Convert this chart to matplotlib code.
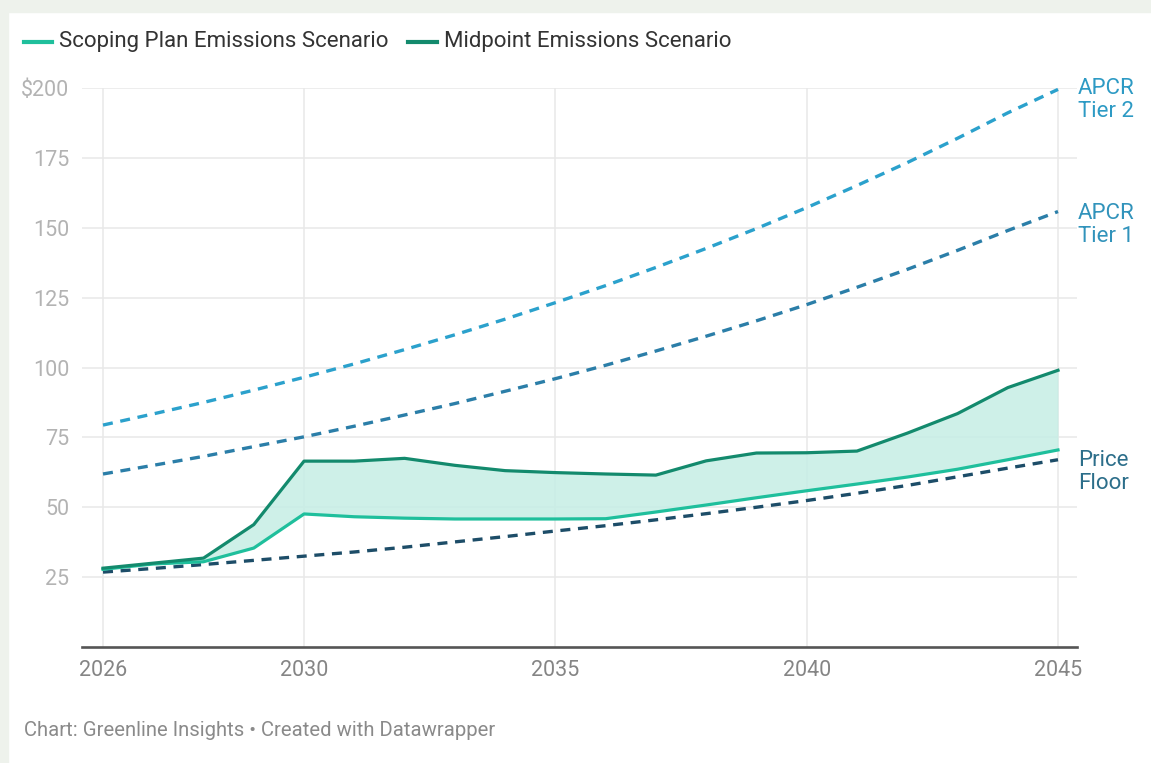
import matplotlib
matplotlib.use("Agg")
import matplotlib.pyplot as plt
from matplotlib.lines import Line2D
from matplotlib.patches import Rectangle

plt.rcParams['font.family'] = ['Roboto', 'DejaVu Sans']

# data ($ per allowance)
years = list(range(2026, 2046))
scoping = [27.8, 29.7, 30.5, 35.4, 47.6, 46.6, 46.1, 45.8, 45.8, 45.8,
           45.9, 48.3, 50.8, 53.4, 55.9, 58.3, 60.8, 63.6, 67.0, 70.5]
midpoint = [28.2, 30.0, 31.8, 43.8, 66.5, 66.5, 67.5, 65.0, 63.1, 62.4,
            61.9, 61.5, 66.6, 69.4, 69.5, 70.1, 76.5, 83.5, 92.8, 99.0]
price_floor = [26.8, 28.1, 29.5, 31.0, 32.5, 34.0, 35.7, 37.6, 39.5, 41.5,
               43.4, 45.5, 47.7, 50.0, 52.4, 55.0, 57.8, 60.9, 64.0, 67.0]
apcr_tier1 = [61.9, 65.0, 68.2, 71.7, 75.2, 79.0, 83.0, 87.1, 91.5, 96.0,
              100.8, 105.9, 111.2, 116.7, 122.5, 128.7, 135.1, 141.9, 149.0, 155.8]
apcr_tier2 = [79.4, 83.4, 87.5, 91.9, 96.5, 101.3, 106.4, 111.7, 117.3, 123.2,
              129.3, 135.8, 142.6, 149.7, 157.2, 165.1, 173.3, 182.0, 191.1, 199.5]

x_ticks = [2026, 2030, 2035, 2040, 2045]
y_ticks = [25, 50, 75, 100, 125, 150, 175, 200]
y_labels = ['25', '50', '75', '100', '125', '150', '175', '$200']

c_scoping = '#1fbf9c'
c_mid = '#138a6d'
c_fill = '#c6eee5'
c_t2 = '#2ba1cc'
c_t1 = '#2b7ea8'
c_floor = '#1d4d68'

W, H = 1151, 763
fig = plt.figure(figsize=(W / 100, H / 100), dpi=100, facecolor='white')

# light frame strips on the left and top
fig.add_artist(Rectangle((0, 0), 8 / W, 1, transform=fig.transFigure, color='#eef2ec', zorder=0))
fig.add_artist(Rectangle((0, 1 - 12 / H), 1, 12 / H, transform=fig.transFigure, color='#eef2ec', zorder=0))

left, right, bottom, top = 82, 1077, 647, 88
ax = fig.add_axes([left / W, 1 - bottom / H, (right - left) / W, (bottom - top) / H])

px_per_year = (1058 - 103) / 19
ax.set_xlim(2026 - (103 - left) / px_per_year, 2045 + (right - 1058) / px_per_year)
ax.set_ylim(0, 200)

for yv in y_ticks:
    ax.axhline(yv, color='#e8e8e8', lw=1.1, zorder=0)
for xv in x_ticks:
    ax.plot([xv, xv], [0, 200], color='#e8e8e8', lw=1.1, zorder=0)

ax.fill_between(years, scoping, midpoint, color=c_fill, alpha=0.85, lw=0, zorder=1)

dash = (3.0, 2.3)
ax.plot(years, apcr_tier2, color=c_t2, lw=2.4, dashes=dash, clip_on=False, zorder=3)
ax.plot(years, apcr_tier1, color=c_t1, lw=2.4, dashes=dash, clip_on=False, zorder=3)
ax.plot(years, price_floor, color=c_floor, lw=2.4, dashes=dash, clip_on=False, zorder=3)
ax.plot(years, scoping, color=c_scoping, lw=2.3, clip_on=False, zorder=4)
ax.plot(years, midpoint, color=c_mid, lw=2.3, clip_on=False, zorder=4)

for s in ['top', 'right', 'left']:
    ax.spines[s].set_visible(False)
ax.spines['bottom'].set_color('#555555')
ax.spines['bottom'].set_linewidth(1.9)

ax.set_xticks(x_ticks)
ax.set_xticklabels([str(v) for v in x_ticks])
ax.set_yticks(y_ticks)
ax.set_yticklabels(y_labels)
ax.tick_params(axis='x', length=0, pad=9, labelsize=15.5, labelcolor='#858585')
ax.tick_params(axis='y', length=0, pad=9, labelsize=15.5, labelcolor='#b3b3b3')

# end labels
lab_x = 1078 / W
fig.text(lab_x, 1 - 100 / H, 'APCR\nTier 2', color='#2d9ac4', fontsize=16, va='center', ha='left', linespacing=1.1)
fig.text(lab_x, 1 - 225 / H, 'APCR\nTier 1', color='#3193bb', fontsize=16, va='center', ha='left', linespacing=1.1)
fig.text(lab_x, 1 - 472 / H, 'Price\nFloor', color='#2c6e8a', fontsize=16, va='center', ha='left', linespacing=1.1)

# legend
ly = 1 - 42 / H
fig.add_artist(Line2D([24 / W, 52 / W], [ly, ly], transform=fig.transFigure, color=c_scoping, lw=3))
fig.text(59 / W, ly, 'Scoping Plan Emissions Scenario', fontsize=16, color='#333333', va='center', ha='left')
fig.add_artist(Line2D([408 / W, 437 / W], [ly, ly], transform=fig.transFigure, color=c_mid, lw=3))
fig.text(444 / W, ly, 'Midpoint Emissions Scenario', fontsize=16, color='#333333', va='center', ha='left')

fig.text(24 / W, 1 - 731 / H, 'Chart: Greenline Insights \u2022 Created with Datawrapper',
         fontsize=14.6, color='#8a8a8a', va='center', ha='left')

fig.savefig('out.png', dpi=100, facecolor=fig.get_facecolor())
